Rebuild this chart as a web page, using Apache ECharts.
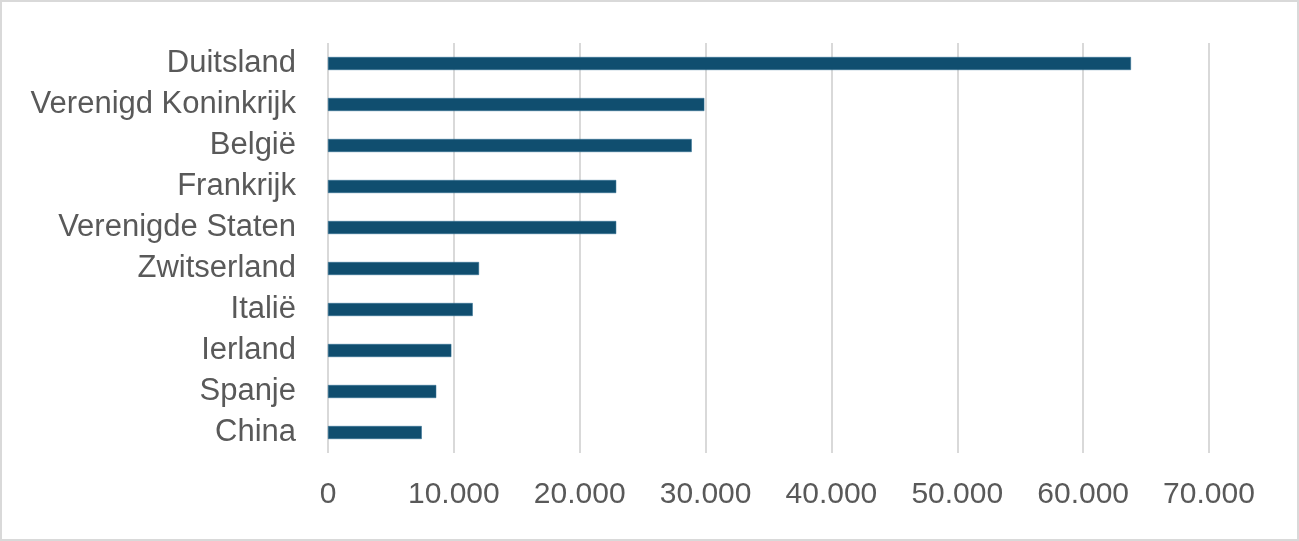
<!DOCTYPE html>
<html><head><meta charset="utf-8">
<script src="https://cdn.jsdelivr.net/npm/echarts@6/dist/echarts.min.js"></script>
<style>html,body{margin:0;padding:0;background:#fff}#c{width:1299px;height:541px;box-sizing:border-box;border:2px solid #d9d9d9}</style>
</head><body><div id="c"></div>
<script>
const categories = ["Duitsland","Verenigd Koninkrijk","België","Frankrijk","Verenigde Staten","Zwitserland","Italië","Ierland","Spanje","China"];
const values = [63800, 29900, 28900, 22900, 22900, 12000, 11500, 9800, 8600, 7450];
const xMax = 70000, xStep = 10000;
function fmt(v){return String(v).replace(/\B(?=(\d{3})+(?!\d))/g,'.');}
const chart = echarts.init(document.getElementById('c'));
chart.setOption({
  animation:false,
  grid:{left:326,right:88,top:41,bottom:86,containLabel:false},
  xAxis:{type:'value',min:0,max:xMax,interval:xStep,
    axisLine:{show:false},axisTick:{show:false},
    splitLine:{lineStyle:{color:'#d9d9d9',width:2}},
    axisLabel:{color:'#595959',fontSize:30,fontFamily:'Liberation Sans',margin:27,formatter:fmt}},
  yAxis:{type:'category',data:categories,inverse:true,
    axisLine:{show:false},axisTick:{show:false},
    axisLabel:{color:'#595959',fontSize:31,fontFamily:'Liberation Sans',margin:32}},
  series:[{type:'bar',data:values,barWidth:13,itemStyle:{color:'#104e6f',borderColor:'#2f6f93',borderWidth:0.5}}]
});
</script></body></html>
